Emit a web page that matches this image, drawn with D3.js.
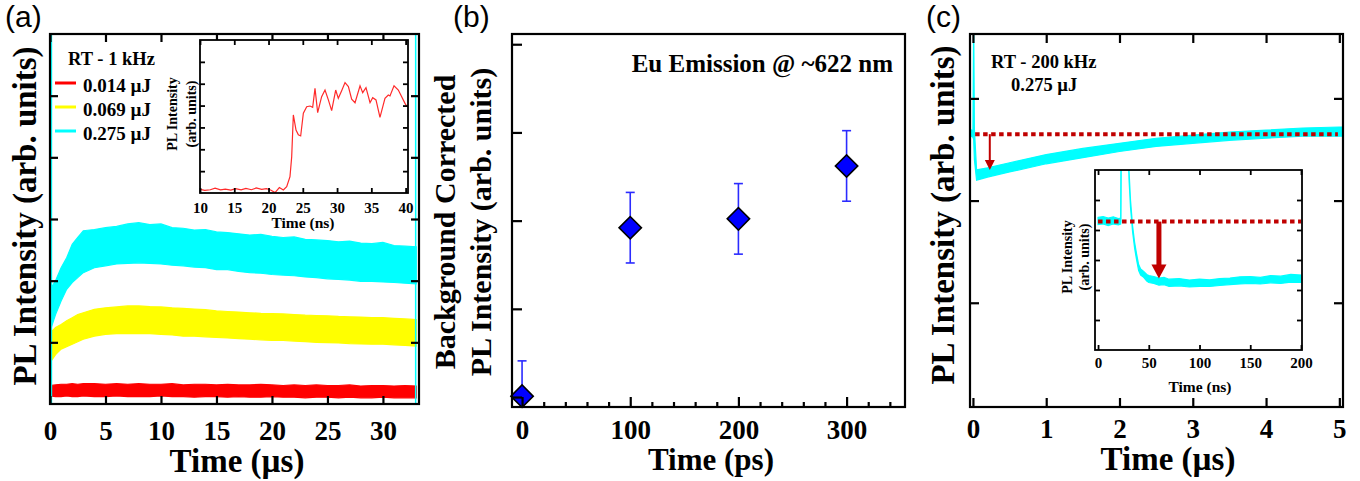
<!DOCTYPE html>
<html>
<head>
<meta charset="utf-8">
<script src="https://cdn.jsdelivr.net/npm/d3@7"></script>
<style>
  body { margin: 0; background: #fff; }
</style>
</head>
<body>
<div id="chart"></div>
<script>
// ---- panel (a): PL traces, 1 kHz (envelope of the noisy traces)
const aTime = [0,0.5,1,1.5,2,2.5,3,4,5,6,7,8,9,10,11,12,13,14,15,16,17,18,19,20,21,22,23,24,25,26,27,28,29,30,31,32,33];
const cyanHigh = [1.85,2.0,2.21,2.37,2.59,2.70,2.81, 2.83,2.86,2.88,2.92,2.94,2.91,2.92,2.86,2.85,2.82, 2.83,2.79,2.78,2.76,2.74,2.75,2.72,2.70,2.71,2.67, 2.66,2.65,2.63,2.64,2.61,2.60,2.62,2.57,2.56,2.55];
const cyanLow = [1.18,1.45,1.67,1.86,1.97,2.05,2.13, 2.21,2.24,2.27,2.28,2.29,2.28,2.27,2.25,2.24,2.22, 2.21,2.18,2.18,2.15,2.13,2.12,2.10,2.09,2.08,2.06, 2.05,2.03,2.02,2.01,1.99,1.99,1.98,1.97,1.96,1.95];
const yellowHigh = [1.15,1.24,1.29,1.35,1.40,1.45,1.48, 1.535,1.56,1.575,1.59,1.59,1.58,1.575,1.56,1.55,1.54, 1.53,1.51,1.50,1.49,1.48,1.47,1.465,1.46,1.45,1.44, 1.435,1.43,1.42,1.415,1.41,1.40,1.40,1.39,1.38,1.37];
const yellowLow = [0.67,0.80,0.89,0.93,0.97,1.01,1.05, 1.10,1.13,1.14,1.145,1.14,1.14,1.13,1.12,1.10,1.10, 1.09,1.08,1.07,1.06,1.05,1.04,1.03,1.03,1.02,1.01, 1.00,0.995,0.99,0.98,0.975,0.97,0.97,0.96,0.95,0.94];
const redHigh = [0.30,0.31,0.32,0.32,0.33,0.32,0.33, 0.33,0.32,0.33,0.32,0.33,0.32,0.32,0.33,0.31,0.32, 0.32,0.31,0.32,0.31,0.31,0.32,0.31,0.30,0.31,0.30, 0.31,0.30,0.30,0.31,0.29,0.30,0.30,0.29,0.30,0.29];
const redLow = [0.13,0.12,0.12,0.13,0.12,0.12,0.13, 0.12,0.12,0.13,0.12,0.12,0.12,0.13,0.12,0.12,0.11, 0.12,0.12,0.11,0.12,0.11,0.11,0.12,0.11,0.11,0.10, 0.11,0.11,0.10,0.11,0.10,0.10,0.11,0.10,0.10,0.10];
const cyanEdges = [0.13, 32.95];
const legendNames = ["0.014 µJ", "0.069 µJ", "0.275 µJ"];
const legendColors = ["#ff0000", "#ffff00", "#00ffff"];
const aXTicks = [0,5,10,15,20,25,30];
const aYTicks = [1,2,3,4,5];

// inset (a): red trace in ns
const aInsetT = [10,10.7,11.5,12.2,13,13.7,14.5,15.2,16,16.7,17.5,18.2,19,19.7,20.3,20.95,21.58,22.16,22.65,23.13,23.38,23.62,24.01,24.35,24.69,25.08,25.57,26.05,26.44,26.78,27.17,27.75,28.24,28.73,29.21,29.8,30.18,30.67,31.16,31.65,32.13,32.62,33.35,33.74,34.22,34.81,35.2,35.68,36.26,36.99,37.48,37.72,38.31,38.94,39.91,40.2];
const aInsetV = [0.17,0.12,0.15,0.22,0.14,0.18,0.13,0.20,0.14,0.21,0.15,0.23,0.17,0.20,0.14,0.02,0.25,0.14,0.29,0.75,1.66,3.57,2.88,2.66,2.61,3.65,3.95,3.98,3.92,4.79,3.68,4.41,4.71,4.26,3.77,4.71,4.33,4.68,5.05,4.87,4.29,4.13,4.90,4.59,4.82,4.13,4.36,4.26,3.46,4.33,4.48,4.44,4.90,4.71,4.10,3.95];
const aInsetXTicks = [10,15,20,25,30,35,40];
const aInsetYTicks = [1,2,3,4,5,6];

// ---- panel (b): background corrected intensity vs delay
const bTime = [0, 100, 200, 300];
const bValue = [0.01, 1.92, 2.02, 2.62];
const bError = [0.40, 0.40, 0.40, 0.40];
const bXTicks = [0, 100, 200, 300];
const bMinorTicks = d3.range(0, 341, 20);
const bYTicks = [0, 1, 2, 3, 4];

// ---- panel (c): 200 kHz trace
const cTime = [-0.04,-0.02,0.0,0.01,0.02,0.05,0.2,0.5,1,1.5,2,2.5,3,3.5,4,4.5,5,5.05];
const cHigh = [2.68,2.69,2.68,3.80,2.70,2.30,2.32,2.37,2.45,2.51,2.56,2.61,2.64,2.67,2.69,2.71,2.72,2.72];
const cLow = [2.62,2.63,2.62,2.60,2.40,2.20,2.23,2.28,2.36,2.42,2.48,2.53,2.56,2.59,2.61,2.63,2.63,2.63];
const cLevel = 2.65;
const cArrow = [0.23, 2.65, 2.30];
const cXTicks = [0,1,2,3,4,5];
const cYTicks = [1,2,3];

// inset (c): first 200 ns
const ciTime = [0,5,10,15,20,22.3,22.6,23,29.5,30.5,32,34,36,38,40,42,45,48,50,55,60,65,70,80,90,100,110,120,130,140,150,160,170,180,190,200];
const ciHigh = [4.42,4.45,4.40,4.44,4.38,4.40,7.0,7.0,7.0,6.0,5.0,4.15,3.6,3.2,2.85,2.70,2.62,2.52,2.48,2.45,2.40,2.42,2.36,2.38,2.33,2.36,2.34,2.38,2.40,2.44,2.45,2.42,2.48,2.46,2.52,2.50];
const ciLow = [4.18,4.20,4.15,4.20,4.17,4.20,4.30,7.0,7.0,5.7,4.75,3.95,3.4,3.0,2.65,2.50,2.42,2.30,2.25,2.22,2.16,2.18,2.12,2.14,2.10,2.12,2.12,2.15,2.18,2.20,2.22,2.20,2.24,2.22,2.26,2.25];
const ciLevel = 4.28;
const ciArrow = [60, 4.28, 2.38];
const ciXTicks = [0,50,100,150,200];
const ciYTicks = [1,2,3,4,5];

const serif = '"Liberation Serif","Times New Roman",serif';
const sans = '"Liberation Sans",Arial,sans-serif';
const darkRed = "#c00000";

const svg = d3.select("#chart").append("svg")
  .attr("width", 1360).attr("height", 481);

const defs = svg.append("defs");
let clipCount = 0;
function clipFor(x, y) {
  const id = "clip" + (clipCount++);
  const [x0, x1] = x.range(), [y0, y1] = y.range();
  defs.append("clipPath").attr("id", id).append("rect")
    .attr("x", x0).attr("y", y1).attr("width", x1 - x0).attr("height", y0 - y1);
  return "url(#" + id + ")";
}

// frame + inward ticks; o = {xt, yt, tl, sw, fs, base, top, right}
function frame(x, y, o) {
  const [x0, x1] = x.range(), [y0, y1] = y.range();
  const g = svg.append("g");
  const bot = g.append("g").attr("transform", `translate(0,${y0})`)
    .call(d3.axisBottom(x).tickValues(o.xt).tickSize(-o.tl).tickFormat(o.fmt || d3.format("d")));
  bot.selectAll("text").attr("y", o.base).attr("dy", null)
    .attr("font-family", serif).attr("font-weight", "bold").attr("font-size", o.fs).attr("fill", "#000");
  if (o.top) g.append("g").attr("transform", `translate(0,${y1})`)
    .call(d3.axisTop(x).tickValues(o.xt).tickSize(-o.tl).tickFormat(""));
  g.append("g").attr("transform", `translate(${x0},0)`)
    .call(d3.axisLeft(y).tickValues(o.yt).tickSize(-o.tl).tickFormat(""));
  if (o.right) g.append("g").attr("transform", `translate(${x1},0)`)
    .call(d3.axisRight(y).tickValues(o.yt).tickSize(-o.tl).tickFormat(""));
  g.selectAll(".domain").remove();
  g.selectAll(".tick line").attr("stroke", "#000").attr("stroke-width", o.sw);
  g.append("rect").attr("x", x0).attr("y", y1).attr("width", x1 - x0).attr("height", y0 - y1)
    .attr("fill", "none").attr("stroke", "#000").attr("stroke-width", o.sw);
  return g;
}

function label(txt, x, y, size, opts = {}) {
  const t = svg.append("text").attr("x", x).attr("y", y).text(txt)
    .attr("font-family", opts.family || serif)
    .attr("font-weight", opts.weight || "bold")
    .attr("font-size", size)
    .attr("text-anchor", opts.anchor || "start");
  if (opts.rotate) t.attr("transform", `rotate(-90,${x},${y})`).attr("dy", "0.35em");
  return t;
}

function band(g, x, y, t, hi, lo, color) {
  const area = d3.area()
    .x((d, i) => x(t[i])).y0((d, i) => y(lo[i])).y1((d, i) => y(hi[i]));
  g.append("path").datum(t).attr("d", area)
    .attr("fill", color).attr("stroke", color).attr("stroke-width", 1.2);
}

function arrow(g, x, y, a, shaft, headW, headL) {
  const xa = x(a[0]), ya = y(a[1]), yb = y(a[2]);
  g.append("line").attr("x1", xa).attr("x2", xa).attr("y1", ya).attr("y2", yb - headL + 1)
    .attr("stroke", darkRed).attr("stroke-width", shaft);
  g.append("path")
    .attr("d", `M${xa - headW / 2},${yb - headL}L${xa + headW / 2},${yb - headL}L${xa},${yb}Z`)
    .attr("fill", darkRed);
}

// ================= panel (a)
const ax = d3.scaleLinear().domain([0, 33.25]).range([50, 419]);
const ay = d3.scaleLinear().domain([0, 6]).range([404, 34]);
const ag = svg.append("g").attr("clip-path", clipFor(ax, ay));
band(ag, ax, ay, aTime, redHigh, redLow, legendColors[0]);
band(ag, ax, ay, aTime, yellowHigh, yellowLow, legendColors[1]);
band(ag, ax, ay, aTime, cyanHigh, cyanLow, legendColors[2]);
ag.selectAll(".edge").data(cyanEdges).enter().append("line")
  .attr("x1", d => ax(d)).attr("x2", d => ax(d)).attr("y1", ay(0)).attr("y2", ay(6))
  .attr("stroke", "#00ffff").attr("stroke-width", 1.5);
frame(ax, ay, { xt: aXTicks, yt: aYTicks, tl: 8, sw: 2.2, fs: 27, base: 36, top: true, right: true });

label("RT - 1 kHz", 68, 65, 18.5);
legendNames.forEach((n, i) => {
  const yy = 83 + i * 24;
  svg.append("line").attr("x1", 55).attr("x2", 76).attr("y1", yy).attr("y2", yy)
    .attr("stroke", legendColors[i]).attr("stroke-width", 3);
  label(n, 83, yy + 8.5, 19);
});

// inset (a)
const aix = d3.scaleLinear().domain([10, 40.35]).range([200, 408]);
const aiy = d3.scaleLinear().domain([0, 7]).range([193, 40]);
svg.append("rect").attr("x", 200).attr("y", 40).attr("width", 208).attr("height", 153).attr("fill", "#fff");
svg.append("g").attr("clip-path", clipFor(aix, aiy)).append("path")
  .datum(aInsetT)
  .attr("d", d3.line().x((d, i) => aix(aInsetT[i])).y((d, i) => aiy(aInsetV[i])))
  .attr("fill", "none").attr("stroke", "#ff2a2a").attr("stroke-width", 1.2);
frame(aix, aiy, { xt: aInsetXTicks, yt: aInsetYTicks, tl: 5, sw: 1.8, fs: 15, base: 20, top: true, right: true });
label("Time (ns)", 303, 228, 15.5, { anchor: "middle" });
label("PL Intensity", 172.5, 114, 14, { anchor: "middle", rotate: true });
label("(arb. units)", 191, 114, 14, { anchor: "middle", rotate: true });

label("PL Intensity (arb. units)", 24, 216, 33, { anchor: "middle", rotate: true });
label("Time (µs)", 237, 472, 33, { anchor: "middle" });
label("(a)", 5, 27, 30, { family: sans, weight: "normal" });

// ================= panel (b)
const bx = d3.scaleLinear().domain([-9.3, 354]).range([512, 905]);
const by = d3.scaleLinear().domain([-0.113, 4.116]).range([407, 34]);
const bg = svg.append("g").attr("clip-path", clipFor(bx, by));
bTime.forEach((t, i) => {
  const xx = bx(t), top = by(bValue[i] + bError[i]), bottom = by(bValue[i] - bError[i]);
  bg.append("line").attr("x1", xx).attr("x2", xx).attr("y1", top).attr("y2", bottom)
    .attr("stroke", "#2b2bff").attr("stroke-width", 1.6);
  [top, bottom].forEach(yy => bg.append("line").attr("x1", xx - 4.5).attr("x2", xx + 4.5)
    .attr("y1", yy).attr("y2", yy).attr("stroke", "#2b2bff").attr("stroke-width", 1.6));
});
svg.append("g").selectAll("path").data(bTime).enter().append("path")
  .attr("d", d3.symbol().type(d3.symbolSquare).size(250))
  .attr("transform", (d, i) => `translate(${bx(d)},${by(bValue[i])}) rotate(45)`)
  .attr("fill", "#0000ff").attr("stroke", "#000").attr("stroke-width", 1.6);
const bf = frame(bx, by, { xt: bXTicks, yt: bYTicks, tl: 10, sw: 2.2, fs: 27, base: 32 });
bf.append("g").attr("transform", `translate(0,${by.range()[0]})`)
  .call(d3.axisBottom(bx).tickValues(bMinorTicks.filter(v => v % 100 !== 0)).tickSize(-5).tickFormat(""))
  .call(g => g.select(".domain").remove())
  .selectAll("line").attr("stroke", "#000").attr("stroke-width", 2.2);
label("Eu Emission @ ~622 nm", 893, 72, 25, { anchor: "end" });
label("Background Corrected", 444, 222, 30, { anchor: "middle", rotate: true });
label("PL Intensity (arb. units)", 480, 222, 30, { anchor: "middle", rotate: true });
label("Time (ps)", 711, 470, 31, { anchor: "middle" });
label("(b)", 453, 27, 30, { family: sans, weight: "normal" });

// ================= panel (c)
const cx = d3.scaleLinear().domain([-0.04, 5.05]).range([970, 1343]);
const cy = d3.scaleLinear().domain([-0.02, 3.63]).range([407, 34]);
const cg = svg.append("g").attr("clip-path", clipFor(cx, cy));
band(cg, cx, cy, cTime, cHigh, cLow, "#00ffff");
cg.append("line").attr("x1", cx(0.03)).attr("x2", cx(4.98)).attr("y1", cy(cLevel)).attr("y2", cy(cLevel))
  .attr("stroke", darkRed).attr("stroke-width", 4).attr("stroke-dasharray", "4.5,3.5");
arrow(cg, cx, cy, cArrow, 2, 10, 10);
frame(cx, cy, { xt: cXTicks, yt: cYTicks, tl: 9, sw: 2.2, fs: 27, base: 31, top: true, right: true });
label("RT - 200 kHz", 991, 68, 18.5);
label("0.275 µJ", 1011, 91, 18.5);

// inset (c)
const cix = d3.scaleLinear().domain([-3, 201]).range([1095, 1302]);
const ciy = d3.scaleLinear().domain([0, 6]).range([350, 170]);
svg.append("rect").attr("x", 1095).attr("y", 170).attr("width", 207).attr("height", 180).attr("fill", "#fff");
const cig = svg.append("g").attr("clip-path", clipFor(cix, ciy));
band(cig, cix, ciy, ciTime, ciHigh, ciLow, "#00ffff");
cig.append("line").attr("x1", cix(0)).attr("x2", cix(200)).attr("y1", ciy(ciLevel)).attr("y2", ciy(ciLevel))
  .attr("stroke", darkRed).attr("stroke-width", 4).attr("stroke-dasharray", "4.5,3.5");
arrow(cig, cix, ciy, ciArrow, 5, 15, 14);
frame(cix, ciy, { xt: ciXTicks, yt: ciYTicks, tl: 5, sw: 1.8, fs: 15, base: 18, top: true, right: true });
label("Time (ns)", 1200, 392, 15.5, { anchor: "middle" });
label("PL Intensity", 1067.5, 257, 14, { anchor: "middle", rotate: true });
label("(arb. units)", 1084, 257, 14, { anchor: "middle", rotate: true });

label("PL Intensity (arb. units)", 942, 215, 33, { anchor: "middle", rotate: true });
label("Time (µs)", 1168, 470, 33, { anchor: "middle" });
label("(c)", 926, 27, 30, { family: sans, weight: "normal" });
</script>
</body>
</html>
